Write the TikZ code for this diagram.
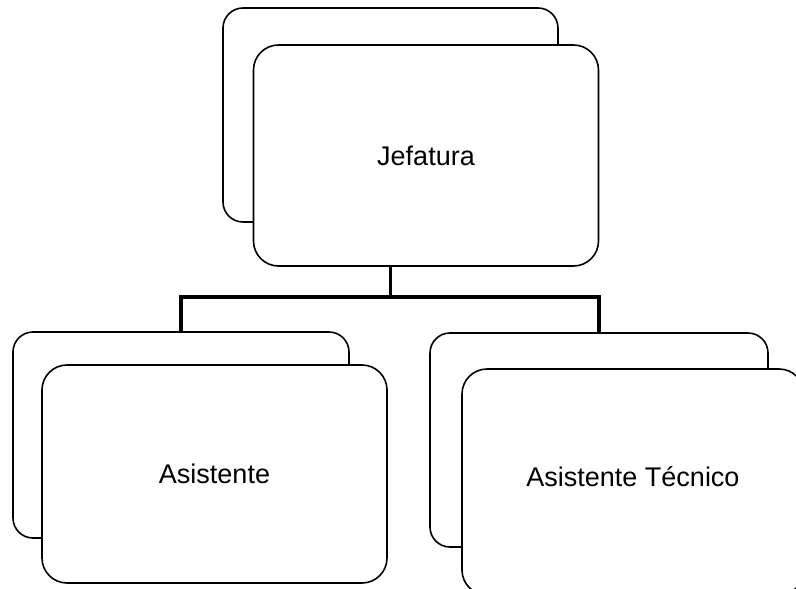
\documentclass[tikz,border=0pt]{standalone}
\usepackage{fontspec}
\setmainfont{Liberation Sans}
\begin{document}
\begin{tikzpicture}[x=1pt,y=-1pt,
    backcard/.style={draw, line width=1.6pt, rounded corners=20pt, inner sep=0pt},
    frontcard/.style={draw, fill=white, line width=1.6pt, rounded corners=25pt,
        minimum width=345pt, font=\fontsize{27}{31}\selectfont},
    link/.style={line width=3.2pt}]
    \useasboundingbox (0,0) rectangle (796,589);
    \clip (0,0) rectangle (796,589);

    % cards at the back
    \node[backcard, minimum width=335pt, minimum height=214pt] (jefeback) at (390.5,115) {};
    \node[backcard, minimum width=336pt, minimum height=206pt] (asisback) at (181,435) {};
    \node[backcard, minimum width=338pt, minimum height=214pt] (tecback) at (599,440) {};

    % connectors
    \coordinate (bar) at (390.5,297);
    \draw[link] (jefeback.south) -- (bar) -| (asisback.north);
    \draw[link] (bar) -| (tecback.north);

    % cards in front
    \node[frontcard, minimum height=221pt] (jefe) at (426,155.5) {Jefatura};
    \node[frontcard, minimum height=218pt] (asis) at (214.5,474) {Asistente};
    \node[frontcard, minimum width=342pt, minimum height=226pt, text depth=10pt] (tec) at (633,482) {Asistente Técnico};

\end{tikzpicture}
\end{document}
